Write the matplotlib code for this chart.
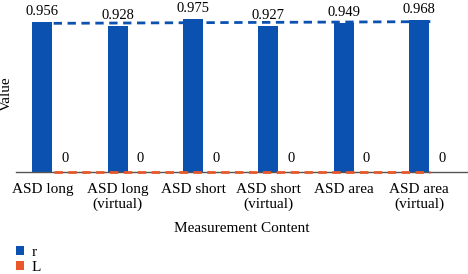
import matplotlib.pyplot as plt
import numpy as np

### DATA ###
categories = ['ASD long', 'ASD long\n(virtual)', 'ASD short', 'ASD short\n(virtual)',
              'ASD area', 'ASD area\n(virtual)']
r_values = [0.956, 0.928, 0.975, 0.927, 0.949, 0.968]
L_values = [0, 0, 0, 0, 0, 0]

blue = '#0b52b0'
orange = '#e8582a'

plt.rcParams['font.family'] = 'Liberation Serif'

fig = plt.figure(figsize=(4.68, 2.74), dpi=100)
ax = fig.add_axes([16/468, 1 - 172/274, 452/468, (172 - 14.7)/274])

x = np.arange(len(categories))
w = 20/75
off = w/2 + 0.0333/2
ax.bar(x - off, r_values, width=w, color=blue, label='r')
ax.bar(x + off, L_values, width=w, color=orange, label='L')

# linear trendlines across the category centres
for vals, col in [(r_values, blue), (L_values, orange)]:
    k, b = np.polyfit(x, vals, 1)
    ax.plot(x, k*x + b, color=col, lw=2, ls=(0, (3, 2)), zorder=4, clip_on=False)

for i in range(len(categories)):
    ax.text(x[i] - off, r_values[i] + 0.025, f'{r_values[i]:.3f}',
            ha='center', va='bottom', fontsize=10.5)
    ax.text(x[i] + off, L_values[i] + 0.045, f'{L_values[i]}',
            ha='center', va='bottom', fontsize=10.5)

ax.set_xlim(-0.5, len(categories) - 0.5)
ax.set_ylim(0, 1.0)
ax.set_xticks(x - off)
ax.set_xticklabels(categories, fontsize=11, linespacing=1.15)
ax.tick_params(axis='x', length=0, pad=8)
ax.set_yticks([])
for s in ['top', 'right', 'left']:
    ax.spines[s].set_visible(False)
ax.spines['bottom'].set_color('#555555')
ax.spines['bottom'].set_linewidth(1)
ax.spines['bottom'].set_zorder(1)

ax.set_ylabel('Value', fontsize=11, labelpad=2)
ax.set_xlabel('Measurement Content', fontsize=11, labelpad=8)

fig.legend(loc='upper left', bbox_to_anchor=(10/468, 1 - 240/274), frameon=False,
           fontsize=11, handlelength=0.5, handleheight=0.5, handletextpad=0.5,
           labelspacing=0.1, borderaxespad=0)

plt.savefig('out.png', dpi=100)
